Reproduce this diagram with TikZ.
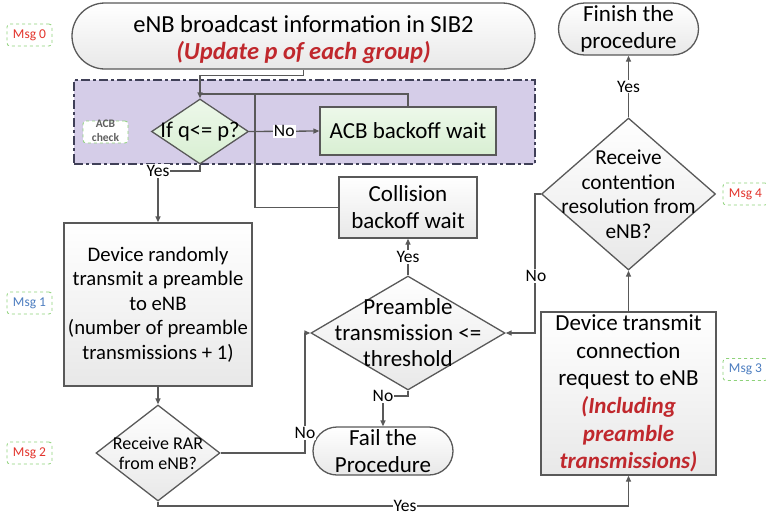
\documentclass[tikz,border=0pt]{standalone}
\usepackage{fontspec}
\setmainfont{Carlito}
\usetikzlibrary{shapes.geometric,shapes.misc,arrows.meta}

\definecolor{linec}{HTML}{595959}
\definecolor{grnA}{HTML}{EDF8EA}
\definecolor{grnB}{HTML}{D8EFD2}
\definecolor{zonefill}{HTML}{D5CDE8}
\definecolor{zoneedge}{HTML}{404058}
\definecolor{hilite}{HTML}{C0282D}
\definecolor{msgred}{HTML}{E3342C}
\definecolor{msgblue}{HTML}{4C7DC0}
\definecolor{msgg}{HTML}{8ED27A}
\definecolor{tagtext}{HTML}{5F5F5F}

\tikzset{
  conn/.style={draw=linec, line width=1.3pt},
  arr/.style={conn, -{Triangle[length=6pt,width=5pt]}},
  greybox/.style={draw=linec, line width=1.3pt, top color=white, bottom color=black!9,
    inner sep=0pt, align=center, font=\fontsize{23}{27}\selectfont},
  greenbox/.style={greybox, top color=grnA, bottom color=grnB},
  termbox/.style={greybox, rounded rectangle},
  decide/.style={diamond, draw=linec, line width=1.3pt, top color=white,
    bottom color=black!9, inner sep=0pt},
  dtext/.style={align=center, inner sep=0pt},
  msgbox/.style={draw=msgg, dashed, rounded corners=3pt, fill=white,
    minimum width=45pt, minimum height=22pt, inner sep=0pt, line width=0.8pt,
    font=\fontsize{13.5}{15}\selectfont},
  lab/.style={fill=white, inner sep=1pt, font=\fontsize{17.5}{19}\selectfont},
  acbregion/.style={draw=zoneedge, fill=zonefill, line width=1.4pt,
    dash pattern=on 9pt off 3pt on 3pt off 3pt, inner sep=0pt}
}
\newcommand{\hot}[1]{{\color{hilite}\bfseries\itshape #1}}

\begin{document}
\begin{tikzpicture}[x=1pt,y=-1pt]
\path[use as bounding box, clip] (0,0) rectangle (766,515);

% ACB check region
\node[acbregion, minimum width=461pt, minimum height=84pt] (zone) at (304.5,122) {};

% message tags
\node[msgbox, text=msgred] (m0) at (29.5,35) {Msg 0};
\node[msgbox, text=msgblue] (m1) at (29.5,303) {Msg 1};
\node[msgbox, text=msgred] (m2) at (29.5,453) {Msg 2};
\node[msgbox, text=msgblue] (m3) at (745.5,369.5) {Msg 3};
\node[msgbox, text=msgred] (m4) at (745.5,194) {Msg 4};
\node[msgbox] (acbtag) at (105.5,132) {};
\node[dtext, text=tagtext, font=\fontsize{11.5}{14}\selectfont\bfseries] (acbtagtxt) at (105.5,131) {ACB\\check};

% process steps
\node[termbox, minimum width=463pt, minimum height=66pt] (bcast) at (303.5,36) {};
\node[dtext, font=\fontsize{24.5}{27.5}\selectfont] (bcasttxt) at (303.5,39.5)
  {eNB broadcast information in SIB2\\\hot{(Update p of each group)}};

\node[decide, top color=grnA, bottom color=grnB, minimum width=97pt, minimum height=65pt] (q) at (200,131.5) {};
\node[dtext, font=\fontsize{22.5}{24}\selectfont] (qtxt) at (q) {If q<= p?};

\node[greenbox, minimum width=176pt, minimum height=48pt] (acbw) at (408,131) {ACB backoff wait};

\node[greybox, minimum width=138pt, minimum height=61pt] (coll) at (408,207.5) {Collision\\backoff wait};

\node[greybox, font=\fontsize{20.7}{24.5}\selectfont, minimum width=188pt, minimum height=163pt] (dev1) at (158,304.5)
  {Device randomly\\transmit a preamble\\to eNB\\(number of preamble\\transmissions + 1)};

\node[decide, minimum width=124pt, minimum height=96pt] (rar) at (158,453) {};
\node[dtext, font=\fontsize{18}{20}\selectfont] (rartxt) at (rar) {Receive RAR\\from eNB?};

\node[decide, minimum width=194pt, minimum height=114pt] (pre) at (408,333) {};
\node[dtext, font=\fontsize{23}{26}\selectfont] (pretxt) at (408,332.5) {Preamble\\transmission <=\\threshold};

\node[termbox, minimum width=140pt, minimum height=48pt] (fail) at (383,451) {Fail the\\Procedure};

\node[greybox, minimum width=175pt, minimum height=163pt, font=\fontsize{23}{27.6}\selectfont] (devtx) at (628.5,393.5)
  {Device transmit\\connection\\request to eNB\\\hot{(Including}\\\hot{preamble}\\\hot{transmissions)}};

\node[decide, minimum width=174pt, minimum height=152pt] (cont) at (628.5,194) {};
\node[dtext, font=\fontsize{21.3}{24.5}\selectfont] (conttxt) at (cont) {Receive\\contention\\resolution from\\eNB?};

\node[termbox, minimum width=140pt, minimum height=52pt] (fin) at (628.5,29) {Finish the\\procedure};

% connectors
\coordinate (j1) at (200,94);
\coordinate (j2) at (255,94);
\draw[arr] (bcast.south) -- ++(0,6) -| (q.north);
\draw[conn] (acbw.north) |- (j1);
\draw[conn] (coll.west) -| (j2);
\draw[arr] (q.east) -- node[lab] (noq) {No} (acbw.west);

\coordinate (yq) at (158,171);
\draw[arr] (q.south) |- (yq) -- (dev1.north);
\node[lab] (yqlab) at (yq) {Yes};

\draw[arr] (dev1.south) -- (rar.north);

\coordinate (nr) at (305,333);
\draw[arr] (rar.east) -| (nr) -- (pre.west);
\node[lab] (nrlab) at (305,433) {No};

\draw[arr] (pre.north) -- node[lab] (ypre) {Yes} (coll.south);

\coordinate (np) at (383,396);
\draw[arr] (pre.south) |- (np) -- (fail.north);
\node[lab] (nplab) at (np) {No};

\coordinate (yr) at (158,506);
\draw[arr] (rar.south) |- (devtx.south |- yr) -- (devtx.south);
\node[lab] (yrlab) at (405,506) {Yes};

\draw[arr] (devtx.north) -- (cont.south);
\draw[arr] (cont.west) -- ++(-6,0) |- (pre.east);
\node[lab] (nclab) at (536,276) {No};

\draw[arr] (cont.north) -- node[lab] (ycont) {Yes} (fin.south);
\end{tikzpicture}
\end{document}
